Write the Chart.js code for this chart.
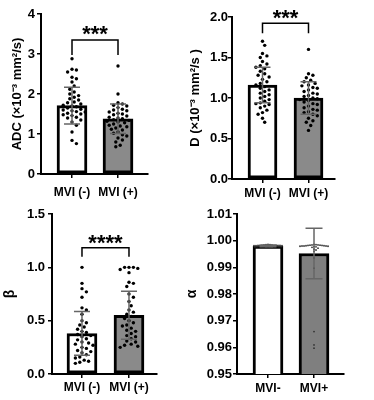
<!DOCTYPE html>
<html lang="en">
<head>
  <meta charset="UTF-8" />
  <title>MVI IVIM parameters</title>
  <script src="https://cdn.jsdelivr.net/npm/chart.js"></script>
  <style>
    body { margin: 0; background: #fff; }
    .wrap { position: relative; width: 374px; height: 400px; }
    canvas { position: absolute; }
  </style>
</head>
<body>
  <div class="wrap">
    <canvas id="adc" width="187" height="200" style="left:0;top:0"></canvas>
    <canvas id="d" width="187" height="200" style="left:187px;top:0"></canvas>
    <canvas id="beta" width="187" height="200" style="left:0;top:200px"></canvas>
    <canvas id="alpha" width="187" height="200" style="left:187px;top:200px"></canvas>
  </div>

  <script>
// group labels
const groups = ['MVI (-)', 'MVI (+)'];
const groupsAlpha = ['MVI-', 'MVI+'];

// ADC (x10^-3 mm2/s)
const adcNeg = [2.88, 2.62, 2.60, 2.55, 2.42, 2.38, 2.30, 2.20, 2.12, 2.05, 2.00, 1.96, 1.92, 1.88, 1.85,
  1.80, 1.78, 1.75, 1.72, 1.70, 1.68, 1.65, 1.62, 1.60, 1.58, 1.56, 1.55, 1.52, 1.50, 1.48, 1.46, 1.42,
  1.40, 1.35, 1.30, 1.22, 1.05, 0.84, 0.76];
const adcPos = [2.70, 2.00, 1.78, 1.75, 1.72, 1.70, 1.66, 1.62, 1.60, 1.58, 1.55, 1.52, 1.50, 1.48, 1.45,
  1.42, 1.40, 1.38, 1.36, 1.34, 1.32, 1.30, 1.28, 1.25, 1.22, 1.20, 1.18, 1.15, 1.12, 1.10, 1.05, 1.02,
  0.98, 0.95, 0.90, 0.85, 0.80, 0.72, 0.68];
const adcMean = [1.71, 1.38];
const adcSd = [0.46, 0.37];
const adcTicks = [0, 1, 2, 3, 4];

// D (x10^-3 mm2/s)
const dNeg = [1.70, 1.65, 1.55, 1.52, 1.50, 1.45, 1.42, 1.40, 1.38, 1.36, 1.33, 1.30, 1.28, 1.26, 1.23,
  1.20, 1.18, 1.16, 1.14, 1.12, 1.10, 1.08, 1.06, 1.04, 1.02, 1.00, 0.98, 0.96, 0.94, 0.93, 0.92, 0.90,
  0.88, 0.85, 0.82, 0.80, 0.75, 0.70];
const dPos = [1.60, 1.30, 1.28, 1.25, 1.22, 1.20, 1.18, 1.16, 1.15, 1.13, 1.12, 1.10, 1.08, 1.06, 1.05,
  1.03, 1.02, 1.00, 0.99, 0.98, 0.97, 0.95, 0.93, 0.92, 0.90, 0.88, 0.86, 0.85, 0.83, 0.82, 0.80, 0.78,
  0.75, 0.72, 0.70, 0.66, 0.60];
const dMean = [1.16, 1.00];
const dSd = [0.22, 0.20];
const dTicks = [0, 0.5, 1.0, 1.5, 2.0];

// beta
const betaNeg = [1.00, 0.85, 0.80, 0.77, 0.72, 0.62, 0.60, 0.56, 0.50, 0.48, 0.46, 0.44, 0.42, 0.40, 0.39,
  0.37, 0.36, 0.35, 0.33, 0.32, 0.30, 0.29, 0.28, 0.27, 0.25, 0.24, 0.22, 0.21, 0.20, 0.18, 0.16, 0.15,
  0.13, 0.12, 0.11, 0.10];
const betaPos = [1.00, 1.00, 1.00, 0.99, 0.98, 0.95, 0.86, 0.85, 0.82, 0.75, 0.72, 0.68, 0.64, 0.60, 0.58,
  0.56, 0.54, 0.52, 0.50, 0.48, 0.46, 0.45, 0.43, 0.41, 0.40, 0.38, 0.36, 0.35, 0.33, 0.31, 0.30, 0.28,
  0.27, 0.26, 0.25];
const betaMean = [0.38, 0.55];
const betaSd = [0.205, 0.225];
const betaTicks = [0, 0.5, 1.0, 1.5];

// alpha
const alphaNeg = [0.9986, 0.9985, 0.9985, 0.9984, 0.9984, 0.9983, 0.9983, 0.9983, 0.9982, 0.9982, 0.9982,
  0.9982, 0.9981, 0.9981, 0.9981, 0.9981, 0.9980, 0.9980, 0.9980, 0.9980, 0.9980, 0.9979, 0.9979, 0.9979,
  0.9979, 0.9978, 0.9978, 0.9978, 0.9977, 0.9977, 0.9976, 0.9976, 0.9975];
const alphaPos = [0.9986, 0.9985, 0.9984, 0.9984, 0.9983, 0.9983, 0.9982, 0.9982, 0.9981, 0.9981, 0.9980,
  0.9980, 0.9980, 0.9979, 0.9979, 0.9978, 0.9977, 0.9975, 0.9972, 0.9968, 0.9965, 0.9960, 0.9935, 0.9897,
  0.9659, 0.9609, 0.9597];
const alphaMean = [0.9980, 0.9952];
const alphaSd = [0.0003, 0.0095];
const alphaTicks = [0.95, 0.96, 0.97, 0.98, 0.99, 1.00, 1.01];

const FONT = "'Liberation Sans', Arial, sans-serif";

// spread dots sideways so they don't sit on top of each other (pixel units)
function swarm(vals, pxPerUnit, sep, maxHalf) {
  const placed = [];
  const out = vals.map(() => 0);
  const order = vals.map((v, i) => i).sort((a, b) => vals[b] - vals[a]);
  const steps = Math.floor(maxHalf / (sep / 2));
  order.forEach(i => {
    const y = vals[i] * pxPerUnit;
    let best = 0, bestD = -1, done = false;
    for (let k = 0; k <= steps && !done; k++) {
      for (const s of (k ? [1, -1] : [1])) {
        const x = s * k * sep / 2;
        let dmin = Infinity;
        placed.forEach(p => { dmin = Math.min(dmin, Math.hypot(p.x - x, p.y - y)); });
        if (dmin >= sep) { best = x; done = true; break; }
        if (dmin > bestD) { bestD = dmin; best = x; }
      }
    }
    placed.push({ x: best, y: y });
    out[i] = best;
  });
  return out;
}

const errorBars = {
  id: 'errorBars',
  afterDatasetsDraw(chart, args, opts) {
    const { ctx, scales: { x, y } } = chart;
    ctx.save();
    ctx.strokeStyle = opts.color;
    ctx.lineWidth = 1.5;
    opts.mean.forEach((m, i) => {
      const cx = x.getPixelForValue(i);
      const top = y.getPixelForValue(m + opts.sd[i]);
      const bot = y.getPixelForValue(m - opts.sd[i]);
      ctx.beginPath();
      ctx.moveTo(cx, top); ctx.lineTo(cx, bot);
      ctx.moveTo(cx - opts.cap / 2, top); ctx.lineTo(cx + opts.cap / 2, top);
      ctx.moveTo(cx - opts.cap / 2, bot); ctx.lineTo(cx + opts.cap / 2, bot);
      ctx.stroke();
    });
    ctx.restore();
  }
};

const sigBracket = {
  id: 'sigBracket',
  afterDraw(chart, args, opts) {
    if (!opts.stars) return;
    const { ctx, scales: { x, y } } = chart;
    const x0 = x.getPixelForValue(0), x1 = x.getPixelForValue(1);
    const top = y.getPixelForValue(opts.top), leg = y.getPixelForValue(opts.leg);
    ctx.save();
    ctx.strokeStyle = '#000';
    ctx.lineWidth = 1.5;
    ctx.beginPath();
    ctx.moveTo(x0, leg); ctx.lineTo(x0, top); ctx.lineTo(x1, top); ctx.lineTo(x1, leg);
    ctx.stroke();
    ctx.fillStyle = '#000';
    ctx.font = 'bold 22px ' + FONT;
    ctx.textAlign = 'center';
    ctx.textBaseline = 'alphabetic';
    ctx.fillText(opts.stars, (x0 + x1) / 2, y.getPixelForValue(opts.text) + 12.5);
    ctx.restore();
  }
};

function panel(id, p) {
  const unit = (p.right - p.left) / (p.xmax - p.xmin);
  const yPx = 160 / (p.ticks[p.ticks.length - 1] - p.ticks[0]);
  const pts = [p.neg, p.pos].flatMap((vals, g) => {
    const off = swarm(vals, yPx, p.sep, 14);
    return vals.map((v, i) => ({ x: g + off[i] / unit, y: v }));
  });
  new Chart(document.getElementById(id), {
    type: 'bar',
    data: {
      datasets: [
        {
          type: 'bar',
          data: p.mean.map((m, i) => ({ x: i, y: m })),
          backgroundColor: ['#ffffff', p.grey],
          borderColor: '#000',
          borderWidth: 3,
          borderSkipped: false,
          barThickness: p.barW,
          order: 2
        },
        {
          type: 'scatter',
          data: pts,
          pointRadius: p.dotR,
          pointBorderWidth: 0,
          pointBackgroundColor: p.dotColor,
          order: 1
        }
      ]
    },
    options: {
      responsive: false,
      devicePixelRatio: 1,
      animation: false,
      layout: { padding: { left: 0, top: p.top, right: 187 - p.right, bottom: 0 } },
      plugins: {
        legend: { display: false },
        tooltip: { enabled: false },
        errorBars: { mean: p.mean, sd: p.sd, cap: p.cap, color: '#666' },
        sigBracket: p.bracket || {}
      },
      scales: {
        x: {
          type: 'linear',
          min: p.xmin,
          max: p.xmax,
          offset: false,
          afterBuildTicks: s => { s.ticks = [{ value: 0 }, { value: 1 }]; },
          afterFit: s => { s.height = 200 - p.bottom; },
          ticks: {
            callback: v => p.labels[v],
            color: '#000',
            padding: p.xPad,
            maxRotation: 0,
            font: { family: FONT, size: 12, weight: 'bold' }
          },
          grid: { display: true, offset: false, drawOnChartArea: false, drawTicks: true, tickLength: 4, color: '#000', lineWidth: 1.5 },
          border: { display: true, color: '#000', width: 2 }
        },
        y: {
          min: p.ticks[0],
          max: p.ticks[p.ticks.length - 1],
          afterBuildTicks: s => { s.ticks = p.ticks.map(v => ({ value: v })); },
          afterFit: s => { s.width = p.left; },
          ticks: {
            callback: v => v.toFixed(p.dec),
            color: '#000',
            padding: p.yPad,
            font: { family: FONT, size: 13, weight: 'bold' }
          },
          grid: { display: true, drawOnChartArea: false, drawTicks: true, tickLength: 4, color: '#000', lineWidth: 1.5 },
          border: { display: true, color: '#000', width: 2 },
          title: {
            display: true,
            text: p.title,
            color: '#000',
            padding: { top: p.titlePad, bottom: 0 },
            font: { family: FONT, size: p.titleSize, weight: 'bold' }
          }
        }
      }
    },
    plugins: [errorBars, sigBracket]
  });
}

panel('adc', {
  neg: adcNeg, pos: adcPos, mean: adcMean, sd: adcSd, ticks: adcTicks, dec: 0, labels: groups,
  title: 'ADC (×10⁻³ mm²/s)', titleSize: 13, titlePad: 10,
  left: 41, right: 148, top: 14, bottom: 174, xmin: -0.674, xmax: 1.652, barW: 30,
  grey: '#8a8a8a', dotR: 1.7, dotColor: '#000', sep: 4.4, cap: 16, xPad: 7, yPad: 2,
  bracket: { stars: '***', top: 3.35, leg: 2.975, text: 3.65 }
});

panel('d', {
  neg: dNeg, pos: dPos, mean: dMean, sd: dSd, ticks: dTicks, dec: 1, labels: groups,
  title: 'D (×10⁻³ mm²/s )', titleSize: 13, titlePad: 1,
  left: 45, right: 148, top: 17, bottom: 179, xmin: -0.663, xmax: 1.576, barW: 29,
  grey: '#8a8a8a', dotR: 1.7, dotColor: '#000', sep: 4.4, cap: 16, xPad: 3, yPad: 0,
  bracket: { stars: '***', top: 1.923, leg: 1.80, text: 2.06 }
});

panel('beta', {
  neg: betaNeg, pos: betaPos, mean: betaMean, sd: betaSd, ticks: betaTicks, dec: 1, labels: groups,
  title: 'β', titleSize: 14, titlePad: 2,
  left: 52, right: 157, top: 14, bottom: 174, xmin: -0.638, xmax: 1.596, barW: 30,
  grey: '#8a8a8a', dotR: 1.7, dotColor: '#000', sep: 4.4, cap: 16, xPad: 2, yPad: 3,
  bracket: { stars: '****', top: 1.184, leg: 1.10, text: 1.28 }
});

panel('alpha', {
  neg: alphaNeg, pos: alphaPos, mean: alphaMean, sd: alphaSd, ticks: alphaTicks, dec: 2, labels: groupsAlpha,
  title: 'α', titleSize: 14, titlePad: -3,
  left: 50, right: 157, top: 14, bottom: 174, xmin: -0.674, xmax: 1.652, barW: 30,
  grey: '#7f7f7f', dotR: 0.9, dotColor: '#333', sep: 2, cap: 17, xPad: 3, yPad: 1
});
  </script>
</body>
</html>
